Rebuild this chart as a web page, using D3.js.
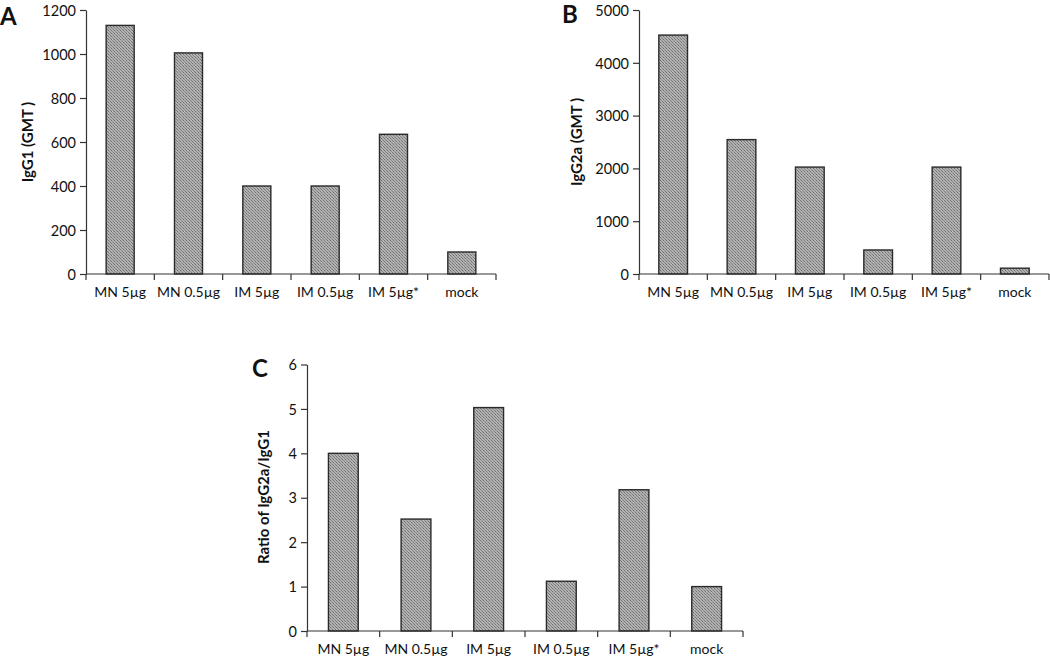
<!DOCTYPE html>
<html><head><meta charset="utf-8">
<script src="https://cdn.jsdelivr.net/npm/d3@7"></script>
<style>
html,body{margin:0;padding:0;background:#fff;}
svg text{font-family:Lato,"Open Sans",sans-serif;fill:#111;}
</style></head>
<body><svg id="c" width="1050" height="660"></svg>
<script>
const categories = ["MN 5\u00b5g","MN 0.5\u00b5g","IM 5\u00b5g","IM 0.5\u00b5g","IM 5\u00b5g*","mock"];
const igg1Values = [1130, 1005, 400, 400, 635, 100];
const igg2aValues = [4525, 2545, 2025, 455, 2025, 110];
const ratioValues = [4.0, 2.52, 5.03, 1.12, 3.18, 1.0];
const igg1Ticks = [0, 200, 400, 600, 800, 1000, 1200];
const igg2aTicks = [0, 1000, 2000, 3000, 4000, 5000];
const ratioTicks = [0, 1, 2, 3, 4, 5, 6];

const svg = d3.select("#c");
const defs = svg.append("defs");
const pat = defs.append("pattern").attr("id","tex").attr("patternUnits","userSpaceOnUse")
  .attr("width",3).attr("height",3);
pat.append("rect").attr("width",3).attr("height",3).attr("fill","#b2b2b2");
pat.append("rect").attr("x",0).attr("y",0).attr("width",1).attr("height",1).attr("fill","#6f6f6f");
pat.append("rect").attr("x",1).attr("y",1).attr("width",1).attr("height",1).attr("fill","#8a8a8a");
pat.append("rect").attr("x",2).attr("y",2).attr("width",1).attr("height",1).attr("fill","#7a7a7a");

function panel(o){
  const g = svg.append("g");
  const x = d3.scaleBand().domain(categories).range([o.x0, o.x1]).paddingInner(0).paddingOuter(0);
  const y = d3.scaleLinear().domain([0, o.max]).range([o.y0, o.y1]);
  const bw = x.bandwidth()*o.bar;
  g.selectAll("rect.bar").data(o.values).enter().append("rect")
    .attr("x",(d,i)=>x(categories[i])+x.bandwidth()/2-bw/2)
    .attr("y",d=>y(d)).attr("width",bw).attr("height",d=>y(0)-y(d))
    .attr("fill","url(#tex)").attr("stroke","#2a2a2a").attr("stroke-width",1.4);
  const ya = g.append("g").attr("transform",`translate(${o.x0},0)`)
    .call(d3.axisLeft(y).tickValues(o.ticks).tickSize(6).tickSizeOuter(0).tickFormat(d3.format("d")));
  ya.select(".domain").attr("stroke","#333").attr("stroke-width",1.2);
  ya.selectAll(".tick line").attr("stroke","#333").attr("stroke-width",1.2);
  ya.selectAll("text").attr("font-size",14.5).attr("x",-10).attr("dy","0.36em").attr("fill","#111");
  const xa = g.append("g").attr("transform",`translate(0,${o.y0})`);
  xa.append("line").attr("x1",o.x0).attr("x2",o.x1).attr("stroke","#333").attr("stroke-width",1.2);
  const bounds = categories.map(c=>x(c)).concat([o.x1]);
  xa.selectAll("line.t").data(bounds).enter().append("line")
    .attr("x1",d=>d).attr("x2",d=>d).attr("y1",0).attr("y2",6).attr("stroke","#333").attr("stroke-width",1.2);
  xa.selectAll("text").data(categories).enter().append("text")
    .attr("x",d=>x(d)+x.bandwidth()/2).attr("y",o.labY).attr("text-anchor","middle")
    .attr("font-size",14).text(d=>d);
  g.append("text").attr("transform",`translate(${o.ylx},${o.yly}) rotate(-90)`)
    .attr("text-anchor","middle").attr("font-weight","bold").attr("font-size",15).text(o.ylabel);
  g.append("text").attr("x",o.lx).attr("y",o.ly).attr("font-weight","bold")
    .attr("font-size",24).attr("font-family","Arial, 'Liberation Sans', sans-serif").text(o.letter);
}

panel({values:igg1Values, ticks:igg1Ticks, max:1200, x0:86, x1:496, y0:274, y1:10, bar:0.41,
  labY:23, ylabel:"IgG1  (GMT )", ylx:33, yly:142, letter:"A", lx:0, ly:25});
panel({values:igg2aValues, ticks:igg2aTicks, max:5000, x0:639, x1:1049, y0:274, y1:10, bar:0.42,
  labY:23, ylabel:"IgG2a (GMT )", ylx:582, yly:142, letter:"B", lx:562, ly:23});
panel({values:ratioValues, ticks:ratioTicks, max:6, x0:307, x1:743, y0:631, y1:364.5, bar:0.41,
  labY:23, ylabel:"Ratio of IgG2a/IgG1", ylx:269, yly:497, letter:"C", lx:252, ly:377});
</script></body></html>
